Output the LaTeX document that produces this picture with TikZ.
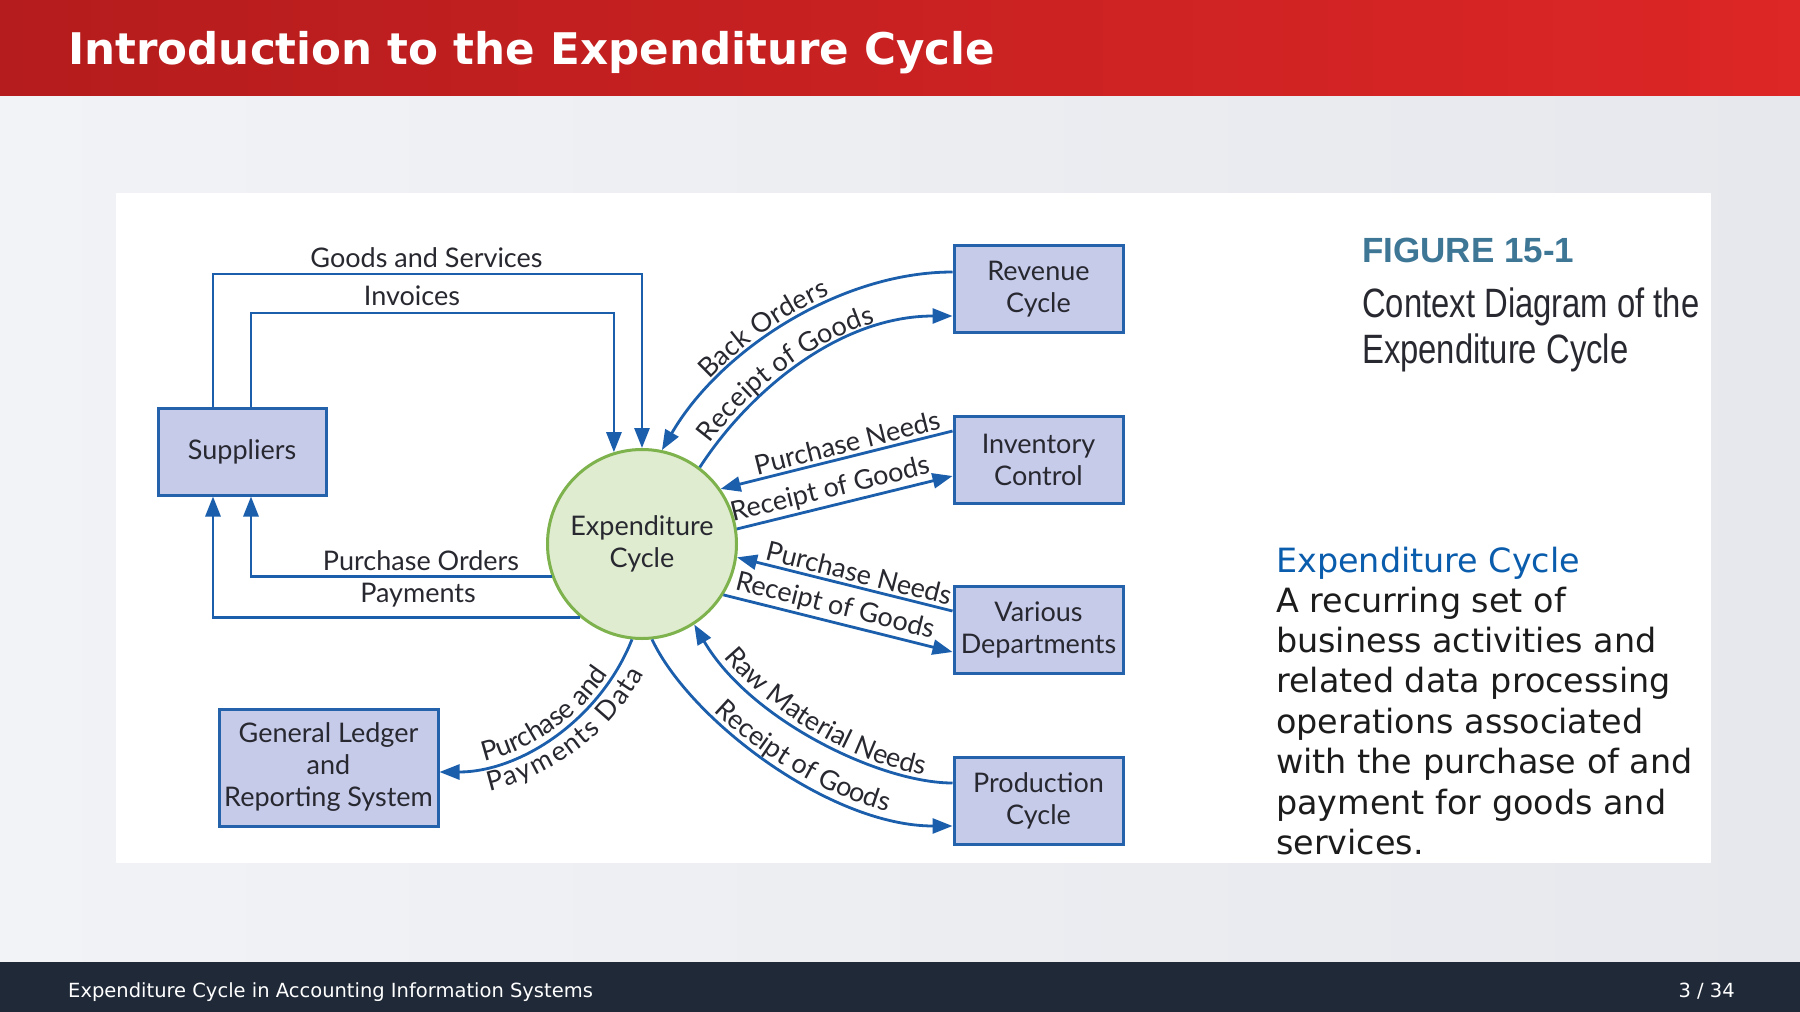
\documentclass[tikz,border=0pt]{standalone}
\usepackage{fontspec}
\setmainfont{DejaVu Sans}
\newfontfamily\lblfont{Lato}
\newfontfamily\capfont[FakeStretch=0.8]{Liberation Sans}
\newfontfamily\capboldfont{Liberation Sans}
\usetikzlibrary{arrows.meta,decorations.text,calc}

\definecolor{titleL}{RGB}{181,28,29}
\definecolor{titleR}{RGB}{221,38,38}
\definecolor{bgL}{RGB}{242,243,246}
\definecolor{bgR}{RGB}{231,232,237}
\definecolor{footbg}{RGB}{31,41,56}
\definecolor{flowblue}{RGB}{26,94,172}
\definecolor{boxfill}{RGB}{198,203,234}
\definecolor{boxline}{RGB}{36,98,172}
\definecolor{circfill}{RGB}{223,236,207}
\definecolor{circline}{RGB}{125,178,76}
\definecolor{ink}{RGB}{40,40,48}
\definecolor{figblue}{RGB}{62,118,150}
\definecolor{headblue}{RGB}{10,92,172}
\definecolor{bodyink}{RGB}{28,28,28}

\newcommand{\curvefont}{\lblfont\fontsize{27}{32}\selectfont}

\tikzset{
  ent/.style={draw=boxline, line width=3pt, fill=boxfill, minimum width=169pt,
    minimum height=87pt, inner sep=0pt, font=\curvefont, text=ink, align=center},
  hub/.style={circle, draw=circline, line width=3pt, fill=circfill,
    minimum size=189pt, inner sep=0pt, font=\curvefont, text=ink, align=center},
  conn/.style={draw=flowblue, line width=2.8pt},
  lbl/.style={inner sep=0pt, font=\curvefont, text=ink},
  bodyline/.style={anchor=base west, inner sep=0pt, text=bodyink,
    font=\fontsize{33.4}{40}\selectfont},
  curvelabel/.style={decorate, decoration={text along path, text color=ink, #1}}
}

\begin{document}
\begin{tikzpicture}[x=1pt, y=-1pt, >={Triangle[length=20pt,width=15pt]}]
\useasboundingbox (0,0) rectangle (1800,1012);

% page background, title bar, footer, figure panel
\shade[left color=bgL, right color=bgR] (0,0) rectangle (1800,1012);
\shade[left color=titleL, right color=titleR] (0,0) rectangle (1800,95);
\fill[footbg] (0,962) rectangle (1800,1012);
\fill[white] (116,193) rectangle (1711,863);

\node[anchor=base west, inner sep=0pt, text=white,
  font=\fontsize{43.6}{50}\selectfont\bfseries] (title) at (68,64)
  {Introduction to the Expenditure Cycle};
\node[anchor=base west, inner sep=0pt, text=white, font=\fontsize{19.5}{23}\selectfont]
  (foot) at (68,997) {Expenditure Cycle in Accounting Information Systems};
\node[anchor=base east, inner sep=0pt, text=white, font=\fontsize{19.5}{23}\selectfont]
  (page) at (1735,997) {3 / 34};

% caption
\node[anchor=base west, inner sep=0pt, text=figblue,
  font=\capboldfont\bfseries\fontsize{35}{40}\selectfont] (fig) at (1362,262) {FIGURE 15-1};
\node[anchor=base west, inner sep=0pt, text=ink, font=\capfont\fontsize{41}{46}\selectfont]
  (cap1) at (1362,317) {Context Diagram of the};
\node[anchor=base west, inner sep=0pt, text=ink, font=\capfont\fontsize{41}{46}\selectfont]
  (cap2) at (1362,363) {Expenditure Cycle};

% definition text
\node[bodyline, text=headblue] (def0) at (1276,572) {Expenditure Cycle};
\node[bodyline] (def1) at (1276,612) {A recurring set of};
\node[bodyline] (def2) at (1276,652) {business activities and};
\node[bodyline] (def3) at (1276,692) {related data processing};
\node[bodyline] (def4) at (1276,733) {operations associated};
\node[bodyline] (def5) at (1276,773) {with the purchase of and};
\node[bodyline] (def6) at (1276,814) {payment for goods and};
\node[bodyline] (def7) at (1276,854) {services.};

% entities
\node[ent, minimum width=168pt] (sup) at (242,451.5) {Suppliers};
\node[ent] (rev) at (1038.5,289) {Revenue\\Cycle};
\node[ent] (inv) at (1038.5,459.5) {Inventory\\Control};
\node[ent] (dep) at (1038.5,629.5) {Various\\Departments};
\node[ent] (prod) at (1038.5,800.5) {Production\\Cycle};
\node[ent, minimum width=219pt, minimum height=117pt] (gl) at (328.5,767.5)
  {General Ledger\\and\\Reporting System};
\node[hub] (exp) at (642,544) {Expenditure\\Cycle};

% supplier flows
\coordinate (gsL) at (213,274);
\coordinate (gsR) at (gsL -| exp.north);
\draw[conn,->] (sup.north -| gsL) -- (gsL) -- (gsR) -- (exp.north);
\coordinate (ivL) at (251,313);
\coordinate (ivR) at (ivL -| exp.107);
\draw[conn,->] (sup.north -| ivL) -- (ivL) -- (ivR) -- (exp.107);
\draw[conn,->] (exp.200) -- (exp.200 -| ivL) -- (sup.south -| ivL);
\draw[conn,->] (exp.230) -- (exp.230 -| gsL) -- (sup.south -| gsL);

\node[lbl, anchor=base] (lgs) at (426.5,267) {Goods and Services};
\node[lbl, anchor=base] (liv) at (412,305) {Invoices};
\node[lbl, anchor=base] (lpo) at (421,570) {Purchase Orders};
\node[lbl, anchor=base] (lpy) at (418,602) {Payments};

% revenue cycle
\draw[conn,<-] (exp.78) .. controls (720,350) and (840,272) .. ([yshift=17pt]rev.west);
\path[curvelabel={raise=5pt, text align={center, right indent=40pt},
    text={|\curvefont|Back Orders}}]
  (exp.78) .. controls (720,350) and (840,272) .. ([yshift=17pt]rev.west);
\draw[conn,->] (exp.53) .. controls (750,390) and (840,316) .. ([yshift=-27pt]rev.west);
\path[curvelabel={raise=5pt, text align={center, right indent=52pt},
    text={|\curvefont|Receipt of Goods}}]
  (exp.53) .. controls (750,390) and (840,316) .. ([yshift=-27pt]rev.west);

% inventory control
\draw[conn,<-] (exp.35) -- node[lbl, sloped, above=3pt, pos=.56] (lipn) {Purchase Needs}
  ([yshift=28.5pt]inv.west);
\draw[conn,->] (exp.9) -- node[lbl, sloped, above=2pt, pos=.45] (lirg) {Receipt of Goods}
  ([yshift=-16.5pt]inv.west);

% various departments
\draw[conn,<-] (exp.-8) -- node[lbl, sloped, above=3pt, pos=.55] (ldpn) {Purchase Needs}
  ([yshift=18.5pt]dep.west);
\draw[conn,->] (exp.-32) -- node[lbl, sloped, above=2pt, pos=.47] (ldrg) {Receipt of Goods}
  ([yshift=-22.5pt]dep.west);

% production cycle
\draw[conn,<-] (exp.-57) .. controls (750,720) and (880,783) .. ([yshift=17.5pt]prod.west);
\path[curvelabel={raise=5pt, text align={center, left indent=14pt},
    text={|\curvefont|Raw Material Needs}}]
  (exp.-57) .. controls (750,720) and (880,783) .. ([yshift=17.5pt]prod.west);
\draw[conn,->] (exp.-84) .. controls (690,720) and (830,826) .. ([yshift=-25.5pt]prod.west);
\path[curvelabel={raise=5pt, text align={center, left indent=28pt},
    text={|\curvefont|Receipt of Goods}}]
  (exp.-84) .. controls (690,720) and (830,826) .. ([yshift=-25.5pt]prod.west);

% general ledger
\draw[conn,<-] ([yshift=-4.5pt]gl.east) .. controls (520,772) and (600,720) .. (exp.264);
\path[curvelabel={raise=5pt, text align={center, left indent=4pt},
    text={|\curvefont|Purchase and}}]
  ([yshift=-4.5pt]gl.east) .. controls (520,772) and (600,720) .. (exp.264);
\path[curvelabel={raise=-25pt, text align={center, left indent=20pt},
    text={|\curvefont|Payments Data}}]
  ([yshift=-4.5pt]gl.east) .. controls (520,772) and (600,720) .. (exp.264);
\end{tikzpicture}
\end{document}
